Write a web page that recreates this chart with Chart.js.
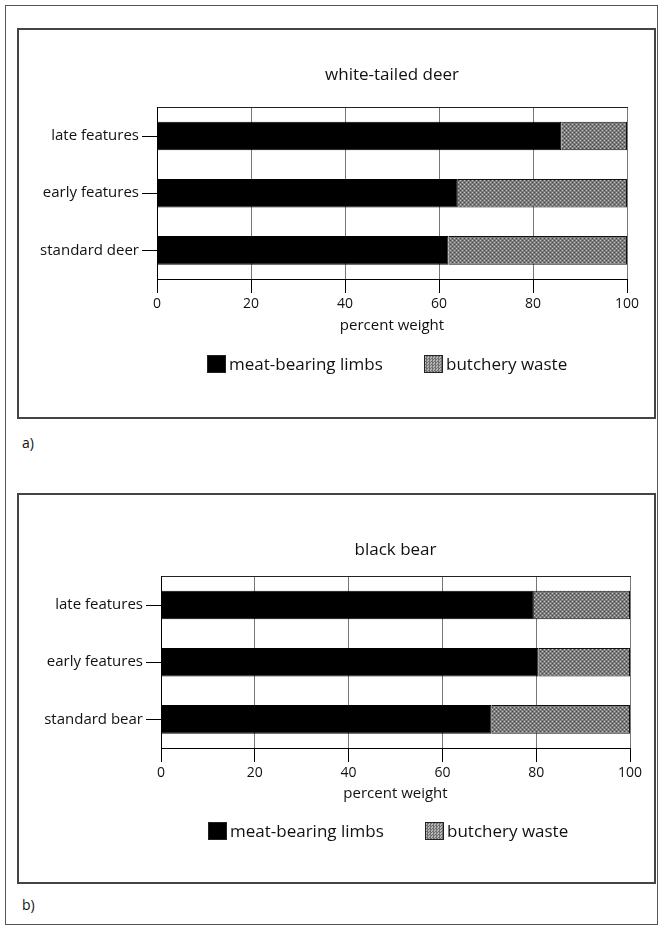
<!DOCTYPE html>
<html>
<head>
<meta charset="utf-8">
<script src="https://cdn.jsdelivr.net/npm/chart.js@4.4.0/dist/chart.umd.min.js"></script>
<style>
  body { margin: 0; background: #fff; font-family: "Open Sans", sans-serif; color: #111; }
  #outer { position: absolute; left: 5px; top: 5px; width: 653px; height: 920px; box-sizing: border-box; border: 1.5px solid #555; }
  .panel { position: absolute; left: 17px; width: 639px; height: 391px; box-sizing: border-box; border: 2px solid #444; }
  canvas { position: absolute; left: 0; }
  .tag { position: absolute; left: 22px; font-size: 14px; line-height: 16px; }
  .item { position: absolute; font-size: 17px; line-height: 20px; display: flex; align-items: center; white-space: nowrap; }
  .box { width: 17px; height: 16px; border: 1px solid #222; margin-right: 3px; }
  .box.meat { background: #000; }
  .box.waste { background: repeating-conic-gradient(#6f6f6f 0 25%, #b5b5b5 0 50%) 0 0/3px 3px; }
</style>
</head>
<body>
<div id="outer"></div>
<div class="panel" style="top:28px"></div>
<div class="panel" style="top:493px"></div>
<canvas id="deerChart" width="659" height="390" style="top:28px"></canvas>
<canvas id="bearChart" width="659" height="390" style="top:493px"></canvas>
<div class="item" style="left:207px; top:354px"><span class="box meat"></span>meat-bearing limbs</div>
<div class="item" style="left:424px; top:354px"><span class="box waste"></span>butchery waste</div>
<div class="tag" style="top:435px">a)</div>
<div class="item" style="left:208px; top:821px"><span class="box meat"></span>meat-bearing limbs</div>
<div class="item" style="left:425px; top:821px"><span class="box waste"></span>butchery waste</div>
<div class="tag" style="top:897px">b)</div>
<script>
const deerCategories = ['late features', 'early features', 'standard deer'];
const deerMeat = [86, 64, 62];
const deerWaste = [14, 36, 38];

const bearCategories = ['late features', 'early features', 'standard bear'];
const bearMeat = [79.5, 80.5, 70.5];
const bearWaste = [20.5, 19.5, 29.5];

const seriesNames = ['meat-bearing limbs', 'butchery waste'];
const xMin = 0, xMax = 100, xStep = 20;

function stipple(ctx) {
    const c = document.createElement('canvas');
    c.width = 4; c.height = 4;
    const g = c.getContext('2d');
    g.fillStyle = '#7c7c7c';
    g.fillRect(0, 0, 4, 4);
    g.fillStyle = '#c2c2c2';
    g.fillRect(0, 0, 1, 1);
    g.fillRect(2, 2, 1, 1);
    g.fillStyle = '#4a4a4a';
    g.fillRect(2, 0, 1, 1);
    g.fillRect(0, 2, 1, 1);
    return ctx.createPattern(c, 'repeat');
}

function makeChart(id, title, labels, meat, waste, lay) {
    const ctx = document.getElementById(id).getContext('2d');
    return new Chart(ctx, {
        type: 'bar',
        data: {
            labels: labels,
            datasets: [{
                label: seriesNames[0],
                data: meat,
                backgroundColor: '#000',
                borderColor: '#000',
                borderWidth: 1
            }, {
                label: seriesNames[1],
                data: waste,
                backgroundColor: stipple(ctx),
                borderColor: '#111',
                borderWidth: 1
            }]
        },
        options: {
            indexAxis: 'y',
            responsive: false,
            animation: false,
            categoryPercentage: 0.5,
            barPercentage: 1.0,
            layout: { padding: { left: 0, right: lay.right, top: 0, bottom: lay.bottom } },
            plugins: {
                legend: { display: false },
                tooltip: { enabled: false }
            },
            scales: {
                x: {
                    stacked: true,
                    min: xMin,
                    max: xMax,
                    afterFit: function(scale) { scale.height = lay.xHeight; },
                    ticks: { stepSize: xStep, color: '#111', padding: 3, font: { family: 'Open Sans', size: 14 } },
                    grid: { color: '#777', tickColor: '#000', tickLength: 14, lineWidth: 1 },
                    border: { color: '#000', width: 1 },
                    title: { display: true, text: 'percent weight', color: '#111', padding: { top: 3, bottom: 4 },
                             font: { family: 'Open Sans', size: 15 } }
                },
                x2: {
                    type: 'linear',
                    position: 'top',
                    ticks: { display: false },
                    grid: { display: false, drawTicks: false },
                    border: { display: true, color: '#222', width: 1 },
                    title: { display: true, text: title, color: '#111',
                             font: { family: 'Open Sans', size: 17 },
                             padding: { top: lay.titleTop, bottom: lay.titleBottom } }
                },
                y: {
                    stacked: true,
                    afterFit: function(scale) { scale.width = lay.axisWidth; },
                    ticks: { color: '#111', padding: 3, font: { family: 'Open Sans', size: 15 } },
                    grid: { offset: false, drawOnChartArea: false, color: '#000', tickLength: 15 },
                    border: { color: '#000', width: 1 }
                }
            }
        }
    });
}

document.addEventListener('DOMContentLoaded', function() {
    makeChart('deerChart', 'white-tailed deer', deerCategories, deerMeat, deerWaste,
        { right: 32, bottom: 79, xHeight: 60, titleTop: 37, titleBottom: 22, axisWidth: 157 });
    makeChart('bearChart', 'black bear', bearCategories, bearMeat, bearWaste,
        { right: 29, bottom: 76, xHeight: 59, titleTop: 47, titleBottom: 16, axisWidth: 161 });
});
</script>
</body>
</html>
